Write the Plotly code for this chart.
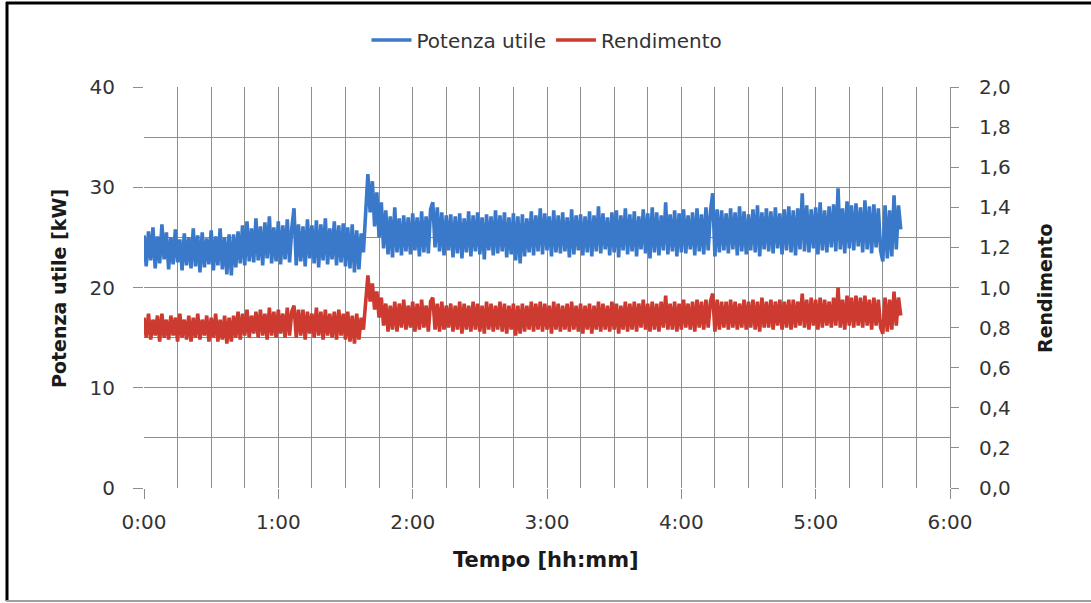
import plotly.graph_objects as go

# Potenza utile [kW], one sample per minute from 0:00
potenza_utile = [
    25.2, 22.1, 25.6, 22.7, 26.0, 21.9, 25.1, 22.4, 26.3, 22.8,
    25.5, 21.8, 25.0, 22.3, 25.8, 22.5, 24.8, 21.7, 25.4, 22.2,
    25.0, 21.9, 25.9, 22.1, 25.2, 21.5, 25.5, 22.0, 24.9, 22.3,
    25.7, 21.7, 25.1, 22.2, 25.9, 21.8, 25.0, 21.3, 25.3, 21.2,
    25.3, 22.0, 25.6, 22.4, 26.2, 22.2, 26.6, 22.6, 25.9, 22.5,
    26.9, 22.7, 26.1, 22.2, 26.5, 22.9, 27.1, 22.4, 26.0, 22.6,
    26.6, 22.3, 26.2, 22.8, 26.8, 22.5, 25.9, 27.9, 22.2, 26.3,
    22.6, 26.1, 22.1, 26.8, 22.9, 26.2, 22.4, 26.7, 22.0, 26.3,
    22.7, 26.9, 22.3, 25.9, 22.8, 26.6, 22.2, 26.2, 22.5, 26.4,
    22.1, 26.0, 21.9, 26.3, 21.5, 25.7, 21.8, 25.4, 23.5, 27.9,
    31.3, 27.5, 30.6, 26.1, 29.5, 25.0, 28.5, 23.9, 27.7, 23.3,
    27.1, 23.0, 28.0, 23.5, 26.9, 23.2, 27.2, 23.6, 27.0, 23.3,
    27.4, 23.7, 27.0, 23.1, 27.6, 23.5, 27.1, 23.4, 27.8, 28.5,
    24.0, 28.0, 23.6, 27.5, 23.2, 27.2, 23.7, 27.3, 23.0, 27.1,
    23.4, 27.4, 22.9, 26.9, 23.5, 27.6, 23.1, 27.2, 23.6, 27.5,
    23.3, 27.0, 22.8, 27.3, 23.7, 27.1, 23.2, 27.7, 23.4, 27.2,
    23.6, 27.5, 23.0, 27.0, 23.3, 27.4, 22.7, 27.1, 22.4, 27.3,
    23.1, 26.9, 23.5, 27.6, 23.2, 27.2, 23.6, 27.9, 23.3, 27.4,
    23.7, 27.1, 23.1, 27.7, 23.5, 27.2, 23.4, 27.5, 23.6, 27.0,
    23.0, 27.8, 23.3, 27.2, 23.7, 27.3, 23.2, 27.1, 23.5, 27.6,
    23.1, 27.2, 23.6, 28.1, 23.4, 27.4, 23.8, 27.0, 23.2, 27.5,
    23.5, 27.7, 23.0, 27.2, 23.7, 27.9, 23.3, 27.3, 23.6, 27.6,
    23.1, 27.1, 23.8, 27.8, 23.4, 27.4, 22.9, 28.0, 23.5, 27.5,
    23.2, 27.2, 23.7, 28.5, 23.3, 27.3, 23.6, 27.7, 23.1, 27.4,
    23.5, 27.8, 23.4, 27.2, 23.8, 27.5, 23.2, 27.9, 23.6, 27.3,
    23.3, 28.0, 23.7, 27.6, 29.4, 23.1, 27.8, 23.5, 27.7, 23.7,
    27.4, 23.4, 27.9, 23.8, 27.5, 23.2, 28.1, 23.6, 27.6, 23.3,
    27.3, 23.7, 27.8, 23.5, 28.2, 23.1, 27.5, 23.8, 27.9, 23.6,
    27.6, 23.4, 28.0, 23.9, 27.4, 23.3, 27.8, 23.7, 28.1, 23.5,
    27.7, 23.2, 27.9, 23.8, 29.4, 23.6, 28.2, 23.5, 27.8, 23.9,
    28.0, 23.3, 28.5, 23.7, 27.7, 23.5, 28.1, 24.0, 28.3, 23.6,
    29.9, 23.8, 27.9, 23.4, 28.6, 23.9, 28.2, 23.7, 28.4, 24.1,
    28.0, 23.5, 28.7, 23.8, 28.1, 23.4, 28.3, 24.0, 27.9, 23.7,
    22.6, 28.2, 22.9, 27.7, 23.1, 29.2, 23.8, 28.2, 25.8,
]

# Rendimento [-], same sampling
rendimento = [
    0.85, 0.75, 0.87, 0.74, 0.84, 0.76, 0.86, 0.73, 0.87, 0.75,
    0.84, 0.74, 0.86, 0.76, 0.85, 0.73, 0.87, 0.75, 0.84, 0.74,
    0.86, 0.73, 0.85, 0.75, 0.87, 0.74, 0.84, 0.76, 0.86, 0.73,
    0.85, 0.75, 0.87, 0.73, 0.84, 0.74, 0.86, 0.72, 0.85, 0.73,
    0.86, 0.75, 0.88, 0.74, 0.87, 0.76, 0.89, 0.75, 0.86, 0.77,
    0.88, 0.75, 0.89, 0.76, 0.87, 0.74, 0.90, 0.76, 0.88, 0.75,
    0.89, 0.77, 0.87, 0.75, 0.90, 0.76, 0.88, 0.91, 0.75, 0.89,
    0.76, 0.89, 0.74, 0.88, 0.77, 0.87, 0.75, 0.90, 0.76, 0.88,
    0.74, 0.89, 0.76, 0.87, 0.75, 0.88, 0.74, 0.89, 0.76, 0.87,
    0.74, 0.88, 0.73, 0.86, 0.72, 0.87, 0.74, 0.85, 0.79, 0.95,
    1.06, 0.93, 1.02, 0.89, 0.98, 0.85, 0.95, 0.81, 0.92, 0.78,
    0.91, 0.79, 0.93, 0.78, 0.92, 0.80, 0.94, 0.79, 0.91, 0.80,
    0.93, 0.78, 0.92, 0.79, 0.94, 0.80, 0.91, 0.78, 0.93, 0.95,
    0.79, 0.92, 0.78, 0.93, 0.79, 0.91, 0.80, 0.92, 0.78, 0.91,
    0.79, 0.93, 0.77, 0.92, 0.79, 0.91, 0.78, 0.93, 0.79, 0.92,
    0.78, 0.91, 0.77, 0.93, 0.79, 0.92, 0.78, 0.91, 0.79, 0.93,
    0.78, 0.92, 0.77, 0.91, 0.79, 0.92, 0.76, 0.91, 0.77, 0.92,
    0.78, 0.91, 0.79, 0.93, 0.78, 0.92, 0.79, 0.93, 0.78, 0.92,
    0.79, 0.91, 0.77, 0.93, 0.79, 0.92, 0.78, 0.91, 0.79, 0.92,
    0.78, 0.93, 0.79, 0.91, 0.78, 0.92, 0.77, 0.91, 0.79, 0.92,
    0.77, 0.91, 0.79, 0.93, 0.78, 0.92, 0.79, 0.91, 0.78, 0.93,
    0.79, 0.92, 0.77, 0.91, 0.79, 0.93, 0.78, 0.92, 0.79, 0.93,
    0.78, 0.92, 0.80, 0.94, 0.79, 0.92, 0.78, 0.93, 0.79, 0.92,
    0.78, 0.93, 0.80, 0.96, 0.79, 0.92, 0.79, 0.93, 0.78, 0.92,
    0.79, 0.94, 0.80, 0.92, 0.79, 0.93, 0.78, 0.94, 0.80, 0.93,
    0.79, 0.94, 0.80, 0.93, 0.97, 0.78, 0.94, 0.79, 0.93, 0.80,
    0.93, 0.79, 0.94, 0.80, 0.93, 0.79, 0.92, 0.80, 0.94, 0.79,
    0.93, 0.80, 0.94, 0.79, 0.93, 0.78, 0.95, 0.80, 0.93, 0.80,
    0.94, 0.79, 0.93, 0.81, 0.94, 0.79, 0.93, 0.80, 0.94, 0.79,
    0.94, 0.80, 0.93, 0.81, 0.97, 0.80, 0.94, 0.79, 0.95, 0.81,
    0.94, 0.79, 0.95, 0.80, 0.94, 0.81, 0.93, 0.80, 0.95, 0.81,
    1.00, 0.80, 0.94, 0.79, 0.96, 0.81, 0.95, 0.80, 0.96, 0.81,
    0.95, 0.80, 0.96, 0.81, 0.94, 0.79, 0.95, 0.81, 0.94, 0.80,
    0.77, 0.95, 0.78, 0.94, 0.79, 0.98, 0.81, 0.95, 0.86,
]

# sample times in minutes (one per sample)
tempo_min = list(range(len(potenza_utile)))

x_tick_vals = [0, 60, 120, 180, 240, 300, 360]
x_tick_text = ["0:00", "1:00", "2:00", "3:00", "4:00", "5:00", "6:00"]

BLUE = "#3A78C9"
RED = "#CD3A2F"
GRID = "#8E8E8E"
FONT = "DejaVu Sans"

fig = go.Figure()
fig.add_trace(go.Scatter(x=tempo_min, y=potenza_utile, mode="lines",
                         name="Potenza utile",
                         line=dict(color=BLUE, width=3.6)))
fig.add_trace(go.Scatter(x=tempo_min, y=rendimento, mode="lines",
                         name="Rendimento", yaxis="y2",
                         line=dict(color=RED, width=3.6)))

# plot area in pixels: left 144, right 950, top 87, bottom 488
L, R, T, B = 144, 950, 87, 488
W, H = 1091, 603
def px(xp):
    return (xp - L) / (R - L)
def py(yp):
    return (B - yp) / (B - T)

fig.update_layout(
    width=W, height=H,
    margin=dict(l=L, r=W - R, t=T, b=H - B, pad=0),
    paper_bgcolor="white", plot_bgcolor="white",
    separators=",.",
    font=dict(family=FONT, color="#333333"),
    showlegend=True,
    legend=dict(orientation="h", x=0.5, xanchor="center",
                y=py(40), yanchor="middle",
                font=dict(family=FONT, size=20, color="#333333"),
                itemwidth=40, tracegroupgap=0),
    xaxis=dict(range=[0, 360], tickvals=x_tick_vals, ticktext=x_tick_text,
               showgrid=True, gridcolor=GRID, gridwidth=1,
               minor=dict(dtick=15, tick0=0, showgrid=True, gridcolor=GRID, gridwidth=1),
               ticks="outside", ticklen=10, tickcolor=GRID,
               ticklabelstandoff=6,
               tickfont=dict(family=FONT, size=20, color="#333333"),
               zeroline=False, showline=False, fixedrange=True),
    yaxis=dict(range=[0, 40], dtick=10, tick0=0,
               showgrid=True, gridcolor=GRID, gridwidth=1,
               minor=dict(dtick=5, tick0=0, showgrid=True, gridcolor=GRID, gridwidth=1),
               ticks="outside", ticklen=10, tickcolor=GRID,
               ticklabelstandoff=14,
               tickfont=dict(family=FONT, size=20, color="#333333"),
               zeroline=False, showline=False),
    yaxis2=dict(range=[0, 2], dtick=0.2, tick0=0, tickformat=".1f",
                overlaying="y", side="right", showgrid=False,
                ticks="outside", ticklen=8, tickcolor=GRID,
                ticklabelstandoff=16,
                showline=True, linecolor=GRID, linewidth=1,
                tickfont=dict(family=FONT, size=20, color="#333333"),
                zeroline=False),
    annotations=[
        dict(text="<b>Tempo [hh:mm]</b>", xref="paper", yref="paper",
             x=px(546), y=py(560), xanchor="center", yanchor="middle",
             showarrow=False, font=dict(family=FONT, size=21, color="#1a1a1a")),
        dict(text="<b>Potenza utile [kW]</b>", xref="paper", yref="paper",
             x=px(59), y=py(289), xanchor="center", yanchor="middle", textangle=-90,
             showarrow=False, font=dict(family=FONT, size=19, color="#1a1a1a")),
        dict(text="<b>Rendimento</b>", xref="paper", yref="paper",
             x=px(1045), y=py(288), xanchor="center", yanchor="middle", textangle=-90,
             showarrow=False, font=dict(family=FONT, size=19, color="#1a1a1a")),
    ],
    shapes=[
        dict(type="line", xref="paper", yref="paper",
             x0=px(7), x1=px(7), y0=py(2), y1=py(601),
             line=dict(color="black", width=3)),
        dict(type="line", xref="paper", yref="paper",
             x0=px(6), x1=px(1091), y0=py(3), y1=py(3),
             line=dict(color="black", width=3)),
        dict(type="line", xref="paper", yref="paper",
             x0=px(6), x1=px(1091), y0=py(601), y1=py(601),
             line=dict(color="#a0a0a0", width=2)),
    ],
)

fig.write_html("out.html")
